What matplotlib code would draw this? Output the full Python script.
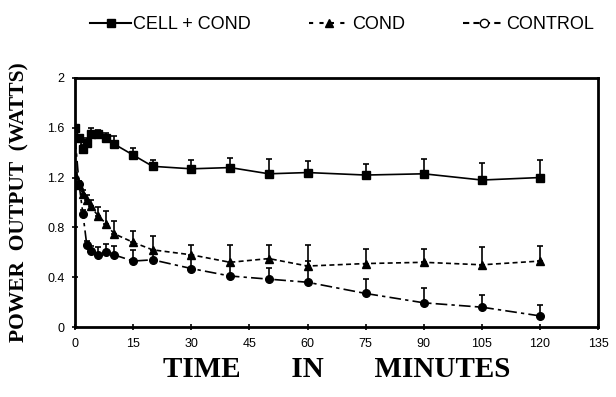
import numpy as np
import matplotlib
matplotlib.use("Agg")
import matplotlib.pyplot as plt
from matplotlib.lines import Line2D

# time points (minutes)
time = [0, 1, 2, 3, 4, 6, 8, 10, 15, 20, 30, 40, 50, 60, 75, 90, 105, 120]

# power output (watts) and upper error
cell_cond = [1.60, 1.52, 1.43, 1.48, 1.55, 1.55, 1.52, 1.47, 1.38, 1.29, 1.27, 1.28,
             1.23, 1.24, 1.22, 1.23, 1.18, 1.20]
cell_cond_err = [0.02, 0.02, 0.03, 0.04, 0.05, 0.03, 0.04, 0.06, 0.06, 0.05, 0.07, 0.08,
                 0.12, 0.09, 0.09, 0.12, 0.14, 0.14]

cond = [1.22, 1.14, 1.07, 1.02, 0.97, 0.89, 0.83, 0.75, 0.68, 0.62, 0.58, 0.52,
        0.55, 0.49, 0.51, 0.52, 0.50, 0.53]
cond_err = [0.02, 0.02, 0.03, 0.04, 0.05, 0.07, 0.10, 0.10, 0.09, 0.11, 0.08, 0.14,
            0.11, 0.17, 0.12, 0.11, 0.14, 0.12]

control = [1.52, 1.15, 0.91, 0.66, 0.61, 0.58, 0.60, 0.58, 0.53, 0.54, 0.47, 0.41,
           0.385, 0.36, 0.27, 0.195, 0.16, 0.09]
control_err = [0.02, 0.02, 0.03, 0.03, 0.04, 0.06, 0.07, 0.07, 0.09, 0.08, 0.10, 0.09,
               0.09, 0.17, 0.12, 0.12, 0.10, 0.09]

x_ticks = [0, 15, 30, 45, 60, 75, 90, 105, 120, 135]
y_ticks = [0, 0.4, 0.8, 1.2, 1.6, 2]
y_tick_labels = ["0", "0.4", "0.8", "1.2", "1.6", "2"]

fig = plt.figure(figsize=(6.16, 3.97), dpi=100)
ax = fig.add_axes([0.122, 0.176, 0.849, 0.628])

def draw(y, err, marker, ls):
    zeros = np.zeros(len(err))
    ax.errorbar(time, y, yerr=[zeros, err], color="black", marker=marker,
                markersize=5.5, linestyle=ls, linewidth=1.2, capsize=2.5,
                elinewidth=1.2, capthick=1.2)

draw(cell_cond, cell_cond_err, "s", "-")
draw(cond, cond_err, "^", (0, (3, 2)))
draw(control, control_err, "o", (0, (7, 2.5, 2, 2.5)))

ax.set_xlim(0, 135)
ax.set_ylim(0, 2)
ax.set_xticks(x_ticks)
ax.set_yticks(y_ticks)
ax.set_yticklabels(y_tick_labels)
for s in ax.spines.values():
    s.set_linewidth(2)
ax.tick_params(direction="inout", length=5, width=1.2, labelsize=9, pad=5)
for lab in ax.get_xticklabels() + ax.get_yticklabels():
    lab.set_family("Liberation Sans")

ax.set_xlabel("TIME       IN       MINUTES", family="Liberation Serif",
              fontweight="bold", fontsize=21, labelpad=5)
ax.set_ylabel("POWER  OUTPUT  (WATTS)", family="Liberation Serif",
              fontweight="bold", fontsize=15.5, labelpad=13)

handles = [
    Line2D([], [], color="black", marker="s", markersize=6, linestyle="-", linewidth=1.5),
    Line2D([], [], color="black", marker="^", markersize=6, linestyle=(0, (2, 3)), linewidth=1.5),
    Line2D([], [], color="black", marker="o", markersize=6, markerfacecolor="white",
           linestyle=(0, (3, 2)), linewidth=1.5),
]
fig.legend(handles, ["CELL + COND", "COND", "CONTROL"], loc="upper center",
           bbox_to_anchor=(0.555, 1.0), ncol=3, frameon=False, handlelength=2.3,
           handletextpad=0.1, columnspacing=3.2,
           prop={"family": "Liberation Sans", "size": 13})

fig.savefig("out.png", dpi=100)
